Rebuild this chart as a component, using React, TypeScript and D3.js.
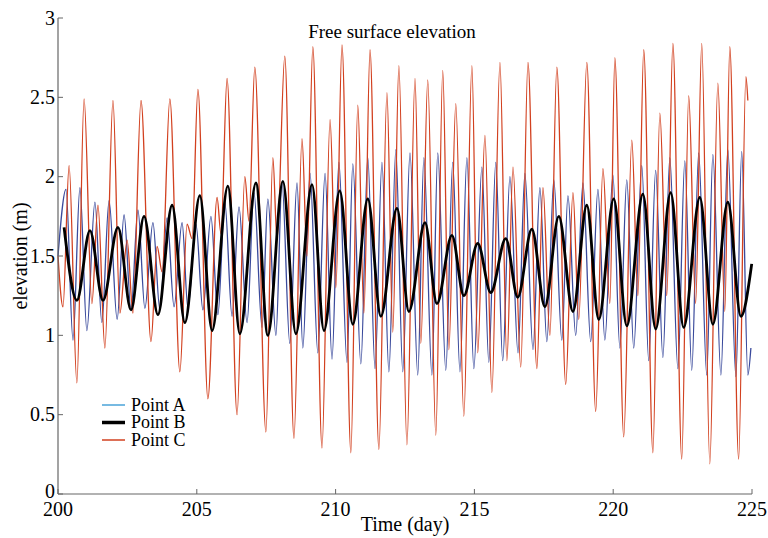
import * as d3 from "d3";

// [day, elevation (m)] at each crest / trough
const pointA: [number, number][] = [
  [200.0, 1.5], [200.29, 1.92], [200.54, 0.97], [200.79, 1.93], [201.04, 1.03], [201.33, 1.84],
  [201.58, 1.08], [201.84, 1.85], [202.13, 1.1], [202.38, 1.76], [202.63, 1.16], [202.88, 1.79],
  [203.13, 1.17], [203.42, 1.71], [203.67, 1.16], [203.93, 1.74], [204.18, 1.18], [204.47, 1.71],
  [204.68, 1.17], [204.97, 1.7], [205.22, 1.16], [205.51, 1.75], [205.76, 1.13], [206.01, 1.84],
  [206.27, 1.12], [206.52, 1.81], [206.81, 1.08], [207.06, 1.9], [207.35, 1.05], [207.56, 1.86],
  [207.85, 1.0], [208.07, 1.96], [208.35, 0.95], [208.61, 1.96], [208.82, 0.92], [209.08, 2.02],
  [209.36, 0.89], [209.62, 2.02], [209.87, 0.85], [210.12, 2.09], [210.41, 0.83], [210.62, 2.08],
  [210.91, 0.82], [211.16, 2.12], [211.42, 0.79], [211.67, 2.09], [211.92, 0.77], [212.17, 2.17],
  [212.42, 0.77], [212.68, 2.15], [212.96, 0.75], [213.18, 2.12], [213.47, 0.75], [213.68, 2.15],
  [213.97, 0.78], [214.22, 2.09], [214.48, 0.77], [214.73, 2.12], [214.98, 0.79], [215.27, 2.06],
  [215.52, 0.83], [215.77, 2.09], [216.02, 0.84], [216.28, 2.0], [216.57, 0.89], [216.82, 2.02],
  [217.11, 0.91], [217.36, 1.93], [217.61, 0.96], [217.86, 1.98], [218.15, 0.97], [218.37, 1.88],
  [218.65, 1.0], [218.91, 1.96], [219.19, 0.96], [219.45, 1.92], [219.7, 0.97], [219.99, 2.01],
  [220.24, 0.92], [220.49, 1.98], [220.74, 0.92], [221.03, 2.07], [221.28, 0.84], [221.53, 2.04],
  [221.79, 0.86], [222.04, 2.12], [222.33, 0.79], [222.58, 2.1], [222.83, 0.78], [223.08, 2.15],
  [223.37, 0.75], [223.59, 2.14], [223.88, 0.75], [224.13, 2.17], [224.42, 0.74], [224.63, 2.16],
  [224.85, 0.75], [224.96, 0.92],
];

const pointB: [number, number][] = [
  [200.22, 1.68], [200.68, 1.22], [201.15, 1.66], [201.62, 1.22], [202.16, 1.68], [202.63, 1.16],
  [203.1, 1.75], [203.6, 1.13], [204.11, 1.82], [204.57, 1.08], [205.11, 1.88], [205.55, 1.03],
  [206.12, 1.94], [206.55, 1.01], [207.13, 1.96], [207.56, 1.0], [208.1, 1.97], [208.57, 1.01],
  [209.15, 1.95], [209.58, 1.03], [210.15, 1.91], [210.62, 1.07], [211.16, 1.86], [211.63, 1.12],
  [212.21, 1.8], [212.64, 1.15], [213.22, 1.71], [213.65, 1.2], [214.19, 1.63], [214.62, 1.25],
  [215.12, 1.58], [215.59, 1.27], [216.13, 1.61], [216.56, 1.24], [217.07, 1.67], [217.54, 1.18],
  [218.04, 1.75], [218.55, 1.15], [219.05, 1.82], [219.48, 1.1], [220.02, 1.86], [220.49, 1.06],
  [221.07, 1.89], [221.53, 1.04], [222.07, 1.9], [222.54, 1.05], [223.12, 1.87], [223.59, 1.07],
  [224.13, 1.84], [224.6, 1.12], [224.99, 1.45],
];

const pointC: [number, number][] = [
  [200.0, 1.5], [200.18, 1.18], [200.4, 2.07], [200.68, 0.7], [200.94, 2.49], [201.22, 1.2],
  [201.44, 1.82], [201.69, 0.92], [201.98, 2.48], [202.23, 1.14], [202.49, 1.6], [202.7, 1.14],
  [202.99, 2.48], [203.35, 0.96], [203.57, 1.56], [203.75, 1.4], [204.03, 2.49], [204.39, 0.77],
  [204.65, 1.7], [204.83, 1.61], [205.04, 2.55], [205.4, 0.6], [205.73, 1.87], [205.87, 1.64],
  [206.09, 2.62], [206.45, 0.5], [206.73, 2.0], [206.88, 1.72], [207.09, 2.69], [207.49, 0.39],
  [207.74, 2.12], [207.89, 1.6], [208.17, 2.76], [208.5, 0.35], [208.79, 2.24], [208.97, 1.5],
  [209.18, 2.82], [209.51, 0.29], [209.8, 2.36], [210.01, 1.3], [210.23, 2.83], [210.55, 0.26],
  [210.8, 2.45], [211.02, 1.14], [211.24, 2.8], [211.56, 0.28], [211.85, 2.53], [212.06, 1.02],
  [212.28, 2.7], [212.57, 0.31], [212.86, 2.62], [213.07, 0.95], [213.32, 2.61], [213.61, 0.37],
  [213.86, 2.67], [214.08, 0.91], [214.33, 2.46], [214.62, 0.49], [214.91, 2.7], [215.12, 0.89],
  [215.38, 2.26], [215.63, 0.64], [215.92, 2.72], [216.17, 0.84], [216.39, 2.06], [216.67, 0.8],
  [216.93, 2.72], [217.25, 0.79], [217.47, 1.93], [217.72, 1.0], [217.97, 2.69], [218.29, 0.69],
  [218.55, 1.9], [218.76, 1.1], [219.05, 2.72], [219.37, 0.52], [219.63, 2.05], [219.88, 1.2],
  [220.06, 2.75], [220.38, 0.36], [220.67, 2.23], [220.89, 1.25], [221.1, 2.8], [221.43, 0.26],
  [221.68, 2.4], [221.93, 1.25], [222.15, 2.84], [222.47, 0.22], [222.72, 2.51], [222.97, 1.2],
  [223.19, 2.84], [223.48, 0.19], [223.77, 2.59], [224.02, 1.15], [224.2, 2.82], [224.52, 0.22],
  [224.78, 2.63], [224.85, 2.48],
];

const xTicks = [200, 205, 210, 215, 220, 225];
const yTicks = [0, 0.5, 1, 1.5, 2, 2.5, 3];

const serif = { fontFamily: "'Liberation Serif', 'Times New Roman', Times, serif" };

const App = () => {
  const width = 768;
  const height = 538;
  const x = d3.scaleLinear().domain([200, 225]).range([58, 752]);
  const y = d3.scaleLinear().domain([0, 3]).range([494, 18]);

  const line = d3
    .line<[number, number]>()
    .x((d) => x(d[0]))
    .y((d) => y(d[1]))
    .curve(d3.curveMonotoneX);

  const legend = [
    { name: "Point A", color: "#4aa3d8", width: 1.5 },
    { name: "Point B", color: "#000", width: 3.5 },
    { name: "Point C", color: "#d2401f", width: 1.5 },
  ];

  return (
    <svg
      width={width}
      height={height}
      style={{ position: "absolute", left: 0, top: 0, background: "#fff" }}
    >
      <path d={line(pointA) ?? ""} fill="none" stroke="#3a4a9c" strokeWidth={1.3} />
      <path d={line(pointC) ?? ""} fill="none" stroke="#d2401f" strokeWidth={1.3} />
      <path d={line(pointB) ?? ""} fill="none" stroke="#000" strokeWidth={2.8} />

      {/* axes: left and bottom only, ticks pointing inward */}
      <line x1={x(200)} x2={x(200)} y1={y(3)} y2={y(0)} stroke="#666" strokeWidth={1.2} />
      <line x1={x(200)} x2={x(225)} y1={y(0)} y2={y(0)} stroke="#666" strokeWidth={1.2} />
      {yTicks.map((t) => (
        <g key={"y" + t}>
          <line x1={x(200)} x2={x(200) + 5} y1={y(t)} y2={y(t)} stroke="#666" />
          <text x={55} y={t === 0 ? y(t) - 3 : y(t)} dy="0.33em" textAnchor="end" fontSize={20} style={serif}>
            {t}
          </text>
        </g>
      ))}
      {xTicks.map((t) => (
        <g key={"x" + t}>
          <line x1={x(t)} x2={x(t)} y1={y(0)} y2={y(0) - 5} stroke="#666" />
          <text x={x(t)} y={516} textAnchor="middle" fontSize={20} style={serif}>
            {t}
          </text>
        </g>
      ))}

      <text x={392} y={38} textAnchor="middle" fontSize={19} style={serif}>
        Free surface elevation
      </text>
      <text x={405} y={531} textAnchor="middle" fontSize={20} style={serif}>
        Time (day)
      </text>
      <text
        transform="translate(27,256) rotate(-90)"
        textAnchor="middle"
        fontSize={20}
        style={serif}
      >
        elevation (m)
      </text>

      {legend.map((l, i) => (
        <g key={l.name} transform={`translate(102, ${405 + i * 17.5})`}>
          <line x1={0} x2={23} y1={0} y2={0} stroke={l.color} strokeWidth={l.width} />
          <text x={29} y={0} dy="0.33em" fontSize={18} style={serif}>
            {l.name}
          </text>
        </g>
      ))}
    </svg>
  );
};

export default App;
